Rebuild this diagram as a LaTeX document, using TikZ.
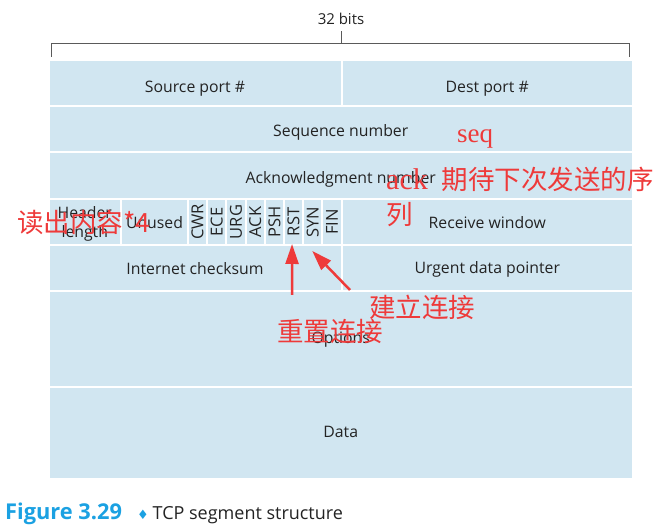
\documentclass[tikz,border=0pt]{standalone}
\usepackage{fontspec}
\setmainfont{Open Sans}
\newfontfamily\cjk{Noto Sans CJK SC}
\newfontfamily\serifl{Liberation Serif}
\newfontfamily\dejavu{DejaVu Sans}
\usetikzlibrary{arrows.meta,calc}
\definecolor{cellblue}{RGB}{209,230,241}
\definecolor{annred}{RGB}{238,58,58}
\definecolor{figblue}{RGB}{27,161,226}
\definecolor{linegray}{RGB}{90,90,90}
\definecolor{txt}{RGB}{35,35,35}
\newcommand\lowr[2]{\raisebox{-#1pt}[\height][\depth]{#2}}
\begin{document}
\begin{tikzpicture}[x=1pt,y=-1pt,
  cell/.style={draw=white, line width=2pt, fill=cellblue, inner sep=0pt, outer sep=0pt,
    anchor=north west, font=\fontsize{15.8}{19}\selectfont, text=txt, align=center},
  flagcell/.style={cell, minimum width=19.19pt, minimum height=46pt, font=\fontsize{16.5}{19}\selectfont},
  ann/.style={text=annred, font=\cjk\fontsize{26.5}{30}\selectfont, inner sep=0pt, anchor=west},
  redarrow/.style={draw=annred, line width=2.5pt, -{Triangle[length=20pt,width=13pt]}},
  bracket/.style={draw=linegray, line width=0.8pt}]
\useasboundingbox (0,0) rectangle (657,529);
% bracket
\node[font=\fontsize{15}{18}\selectfont, text=txt, inner sep=0pt] (bits) at (341,19) {32 bits};
\coordinate (bl) at (51,57);
\coordinate (bl2) at (51,43);
\coordinate (mid) at (341,43);
\coordinate (midtop) at (341,31);
\coordinate (br2) at (629,43);
\coordinate (br) at (629,57);
\draw[bracket] (bl) -- (bl2) -- (br2) -- (br);
\draw[bracket] (mid) -- (midtop);
% row 1
\node[cell, minimum width=293pt, minimum height=46pt] (src) at (48.5,60) {\lowr{6}{Source port \#}};
\node[cell, minimum width=291.5pt, minimum height=46pt] (dst) at (341.5,60) {\lowr{6}{Dest port \#}};
% row 2
\node[cell, minimum width=584.5pt, minimum height=46pt] (seq) at (48.5,106) {\lowr{3}{Sequence number}};
% row 3
\node[cell, minimum width=584.5pt, minimum height=47pt] (ack) at (48.5,152) {\lowr{4}{Acknowledgment number}};
% row 4
\node[cell, minimum width=72.5pt, minimum height=46pt] (hlen) at (48.5,199) {\lowr{2}{Header}\\\lowr{2}{length}};
\node[cell, minimum width=67pt, minimum height=46pt] (unused) at (121,199) {\lowr{1}{Unused}};
\node[flagcell] (cwr) at (188,199) {\rotatebox{90}{CWR}};
\node[flagcell] (ece) at (207.19,199) {\rotatebox{90}{ECE}};
\node[flagcell] (urgf) at (226.38,199) {\rotatebox{90}{URG}};
\node[flagcell] (ackf) at (245.57,199) {\rotatebox{90}{ACK}};
\node[flagcell] (psh) at (264.76,199) {\rotatebox{90}{PSH}};
\node[flagcell] (rst) at (283.95,199) {\rotatebox{90}{RST}};
\node[flagcell] (syn) at (303.14,199) {\rotatebox{90}{SYN}};
\node[flagcell] (fin) at (322.33,199) {\rotatebox{90}{FIN}};
\node[cell, minimum width=291.5pt, minimum height=46pt] (rwin) at (341.5,199) {\lowr{1}{Receive window}};
% row 5
\node[cell, minimum width=293pt, minimum height=46pt] (cks) at (48.5,245) {\lowr{1}{Internet checksum}};
\node[cell, minimum width=291.5pt, minimum height=46pt] (urg) at (341.5,245) {\lowr{1}{Urgent data pointer}};
% row 6, 7
\node[cell, minimum width=584.5pt, minimum height=96.5pt] (opt) at (48.5,291) {Options};
\node[cell, minimum width=584.5pt, minimum height=91.5pt] (data) at (48.5,387.5) {\lowr{-1}{Data}};
% annotations
\node[ann] (a1) at (17,222) {读出内容*4};
\node[ann, font=\serifl\fontsize{27}{30}\selectfont] (a2) at (457,139) {seq};
\node[ann] (a3) at (386,179) {{\serifl\fontsize{30}{32}\selectfont ack}\hspace{14pt}期待下次发送的序};
\node[ann] (a4) at (386,215) {列};
\node[ann] (a5) at (369,307) {建立连接};
\node[ann] (a6) at (277,331) {重置连接};
\coordinate (rsttail) at (292,295);
\coordinate (syntail) at (350,290);
\draw[redarrow] (rsttail) -- ($(rst.south)+(-1.5,-1)$);
\draw[redarrow] (syntail) -- ($(syn.south)+(-0.5,6)$);
% caption
\node[anchor=base west, inner sep=0pt, font=\fontsize{18}{22}\selectfont] (cap) at (5,520)
  {\textcolor{figblue}{\fontsize{21.8}{24}\selectfont\bfseries Figure 3.29}\hspace{15pt}{\dejavu\fontsize{13}{14}\selectfont\textcolor{figblue}{♦}}\hspace{4pt}\textcolor{txt}{TCP segment structure}};
\end{tikzpicture}
\end{document}
